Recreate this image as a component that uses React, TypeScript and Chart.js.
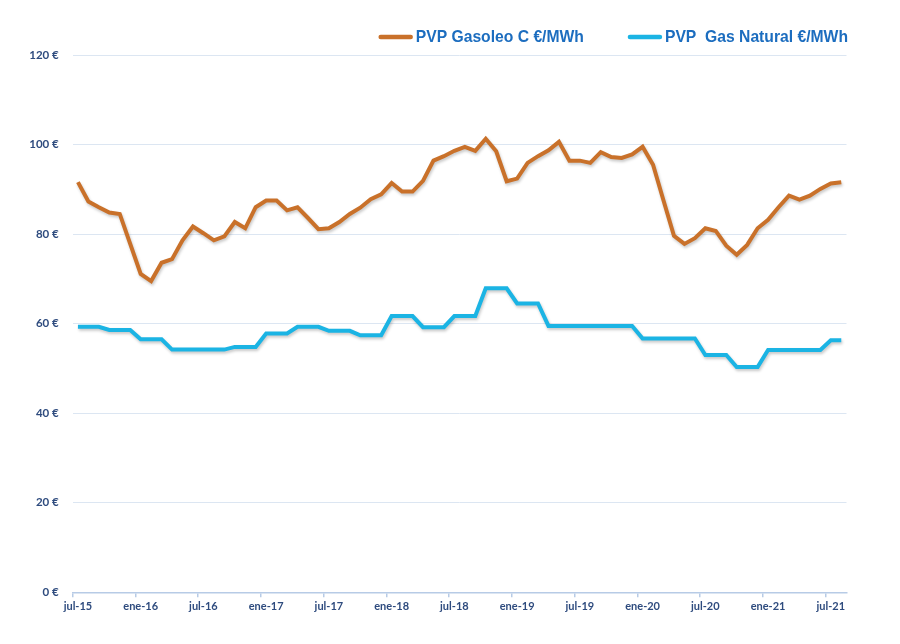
import React, { useEffect, useRef } from "react";
import { Chart, registerables } from "chart.js";

Chart.register(...registerables);

const categories: string[] = [
  "jul-15", "ago-15", "sep-15", "oct-15", "nov-15", "dic-15",
  "ene-16", "feb-16", "mar-16", "abr-16", "may-16", "jun-16",
  "jul-16", "ago-16", "sep-16", "oct-16", "nov-16", "dic-16",
  "ene-17", "feb-17", "mar-17", "abr-17", "may-17", "jun-17",
  "jul-17", "ago-17", "sep-17", "oct-17", "nov-17", "dic-17",
  "ene-18", "feb-18", "mar-18", "abr-18", "may-18", "jun-18",
  "jul-18", "ago-18", "sep-18", "oct-18", "nov-18", "dic-18",
  "ene-19", "feb-19", "mar-19", "abr-19", "may-19", "jun-19",
  "jul-19", "ago-19", "sep-19", "oct-19", "nov-19", "dic-19",
  "ene-20", "feb-20", "mar-20", "abr-20", "may-20", "jun-20",
  "jul-20", "ago-20", "sep-20", "oct-20", "nov-20", "dic-20",
  "ene-21", "feb-21", "mar-21", "abr-21", "may-21", "jun-21",
  "jul-21", "ago-21",
];

const gasoleoC: number[] = [
  91.6, 87.3, 86.0, 84.8, 84.5, 77.8,
  71.1, 69.5, 73.6, 74.4, 78.6, 81.7,
  80.2, 78.6, 79.5, 82.7, 81.3, 86.0,
  87.5, 87.5, 85.3, 86.0, 83.6, 81.1,
  81.3, 82.7, 84.5, 85.9, 87.8, 88.9,
  91.4, 89.5, 89.5, 91.9, 96.4, 97.4,
  98.6, 99.5, 98.6, 101.3, 98.5, 91.8,
  92.4, 95.9, 97.4, 98.7, 100.6, 96.4,
  96.4, 95.9, 98.3, 97.2, 97.0, 97.8,
  99.5, 95.5, 87.5, 79.6, 77.8, 79.1,
  81.3, 80.7, 77.4, 75.4, 77.6, 81.3,
  83.2, 86.0, 88.6, 87.7, 88.6, 90.1,
  91.3, 91.6,
];

const gasNatural: number[] = [
  59.3, 59.3, 59.3, 58.6, 58.6, 58.6,
  56.5, 56.5, 56.5, 54.2, 54.2, 54.2,
  54.2, 54.2, 54.2, 54.8, 54.8, 54.8,
  57.8, 57.8, 57.8, 59.3, 59.3, 59.3,
  58.4, 58.4, 58.4, 57.4, 57.4, 57.4,
  61.7, 61.7, 61.7, 59.2, 59.2, 59.2,
  61.7, 61.7, 61.7, 67.9, 67.9, 67.9,
  64.5, 64.5, 64.5, 59.5, 59.5, 59.5,
  59.5, 59.5, 59.5, 59.5, 59.5, 59.5,
  56.7, 56.7, 56.7, 56.7, 56.7, 56.7,
  53.0, 53.0, 53.0, 50.3, 50.3, 50.3,
  54.1, 54.1, 54.1, 54.1, 54.1, 54.1,
  56.3, 56.3,
];

const seriesNames: string[] = ["PVP Gasoleo C €/MWh", "PVP  Gas Natural €/MWh"];

const yTicks: number[] = [0, 20, 40, 60, 80, 100, 120];

const ORANGE = "#C9712A";
const BLUE = "#1BB4E4";
const LABEL = "#2E4B7E";
const LEGEND_TEXT = "#1C6DBF";

const customLegend = {
  id: "customLegend",
  afterDraw(chart: any) {
    const ctx = chart.ctx as CanvasRenderingContext2D;
    const y = 29;
    const sampleW = 34;
    const sampleGap = 3;
    const itemGap = 44;
    ctx.save();
    ctx.font = "bold 15.7px 'Liberation Sans', Arial, sans-serif";
    ctx.textBaseline = "middle";
    ctx.textAlign = "left";
    const items = chart.data.datasets.map((ds: any) => ({
      text: ds.label as string,
      color: ds.borderColor as string,
      w: ctx.measureText(ds.label).width,
    }));
    let right = 840;
    const positions: { x: number }[] = [];
    for (let i = items.length - 1; i >= 0; i--) {
      const textX = right - items[i].w;
      const sx = textX - sampleGap - sampleW;
      positions[i] = { x: sx };
      right = sx - itemGap;
    }
    items.forEach((it: any, i: number) => {
      const sx = positions[i].x;
      ctx.strokeStyle = it.color;
      ctx.lineWidth = 4.5;
      ctx.lineCap = "round";
      ctx.beginPath();
      ctx.moveTo(sx + 2, y);
      ctx.lineTo(sx + sampleW - 2, y);
      ctx.stroke();
      ctx.fillStyle = LEGEND_TEXT;
      ctx.fillText(it.text, sx + sampleW + sampleGap, y + 1);
    });
    ctx.restore();
  },
};

const lineShadow = {
  id: "lineShadow",
  beforeDatasetsDraw(chart: any) {
    const ctx = chart.ctx as CanvasRenderingContext2D;
    ctx.save();
    ctx.shadowColor = "rgba(0,0,0,0.22)";
    ctx.shadowBlur = 3;
    ctx.shadowOffsetX = 1;
    ctx.shadowOffsetY = 2;
  },
  afterDatasetsDraw(chart: any) {
    chart.ctx.restore();
  },
};

export default function App() {
  const ref = useRef<HTMLCanvasElement | null>(null);

  useEffect(() => {
    if (!ref.current) return;
    const chart = new Chart(ref.current, {
      type: "line",
      data: {
        labels: categories,
        datasets: [
          {
            label: seriesNames[0],
            data: gasoleoC,
            borderColor: ORANGE,
            backgroundColor: ORANGE,
            borderWidth: 4,
            pointRadius: 0,
            tension: 0,
          },
          {
            label: seriesNames[1],
            data: gasNatural,
            borderColor: BLUE,
            backgroundColor: BLUE,
            borderWidth: 4,
            pointRadius: 0,
            tension: 0,
          },
        ],
      },
      options: {
        animation: false,
        responsive: true,
        maintainAspectRatio: false,
        layout: { padding: { top: 47, right: 45.5, bottom: 19.5, left: 0 } },
        plugins: {
          tooltip: { enabled: false },
          legend: { display: false },
        },
        scales: {
          x: {
            type: "category",
            offset: true,
            grid: {
              offset: true,
              drawOnChartArea: false,
              drawTicks: true,
              tickLength: 5,
              lineWidth: 1.5,
              color: (ctx: any) => (ctx.index % 6 === 0 ? "#B7CBE6" : "rgba(0,0,0,0)"),
            },
            border: { display: true, color: "#B7CBE6", width: 1.5 },
            ticks: {
              autoSkip: false,
              maxRotation: 0,
              minRotation: 0,
              padding: 3,
              color: LABEL,
              font: { family: "Lato, 'Open Sans', sans-serif", size: 11, weight: "bold" },
              callback: (_v: any, i: number) => (i % 6 === 0 ? categories[i] : ""),
            },
          },
          y: {
            min: 0,
            max: 120,
            afterBuildTicks: (scale: any) => {
              scale.ticks = yTicks.map((v) => ({ value: v }));
            },
            afterFit: (scale: any) => {
              scale.width = 64.7;
            },
            grid: {
              drawTicks: false,
              color: (ctx: any) => (ctx.tick && ctx.tick.value === 0 ? "rgba(0,0,0,0)" : "#DCE6F2"),
              lineWidth: 1,
            },
            border: { display: false },
            ticks: {
              padding: 14,
              color: LABEL,
              font: { family: "Lato, 'Open Sans', sans-serif", size: 11.5, weight: "bold" },
              callback: (v: any) => `${v} €`,
            },
          },
        },
      },
      plugins: [lineShadow, customLegend],
    });
    return () => chart.destroy();
  }, []);

  return (
    <div style={{ width: 884, height: 628, position: "relative" }}>
      <canvas ref={ref} />
    </div>
  );
}
